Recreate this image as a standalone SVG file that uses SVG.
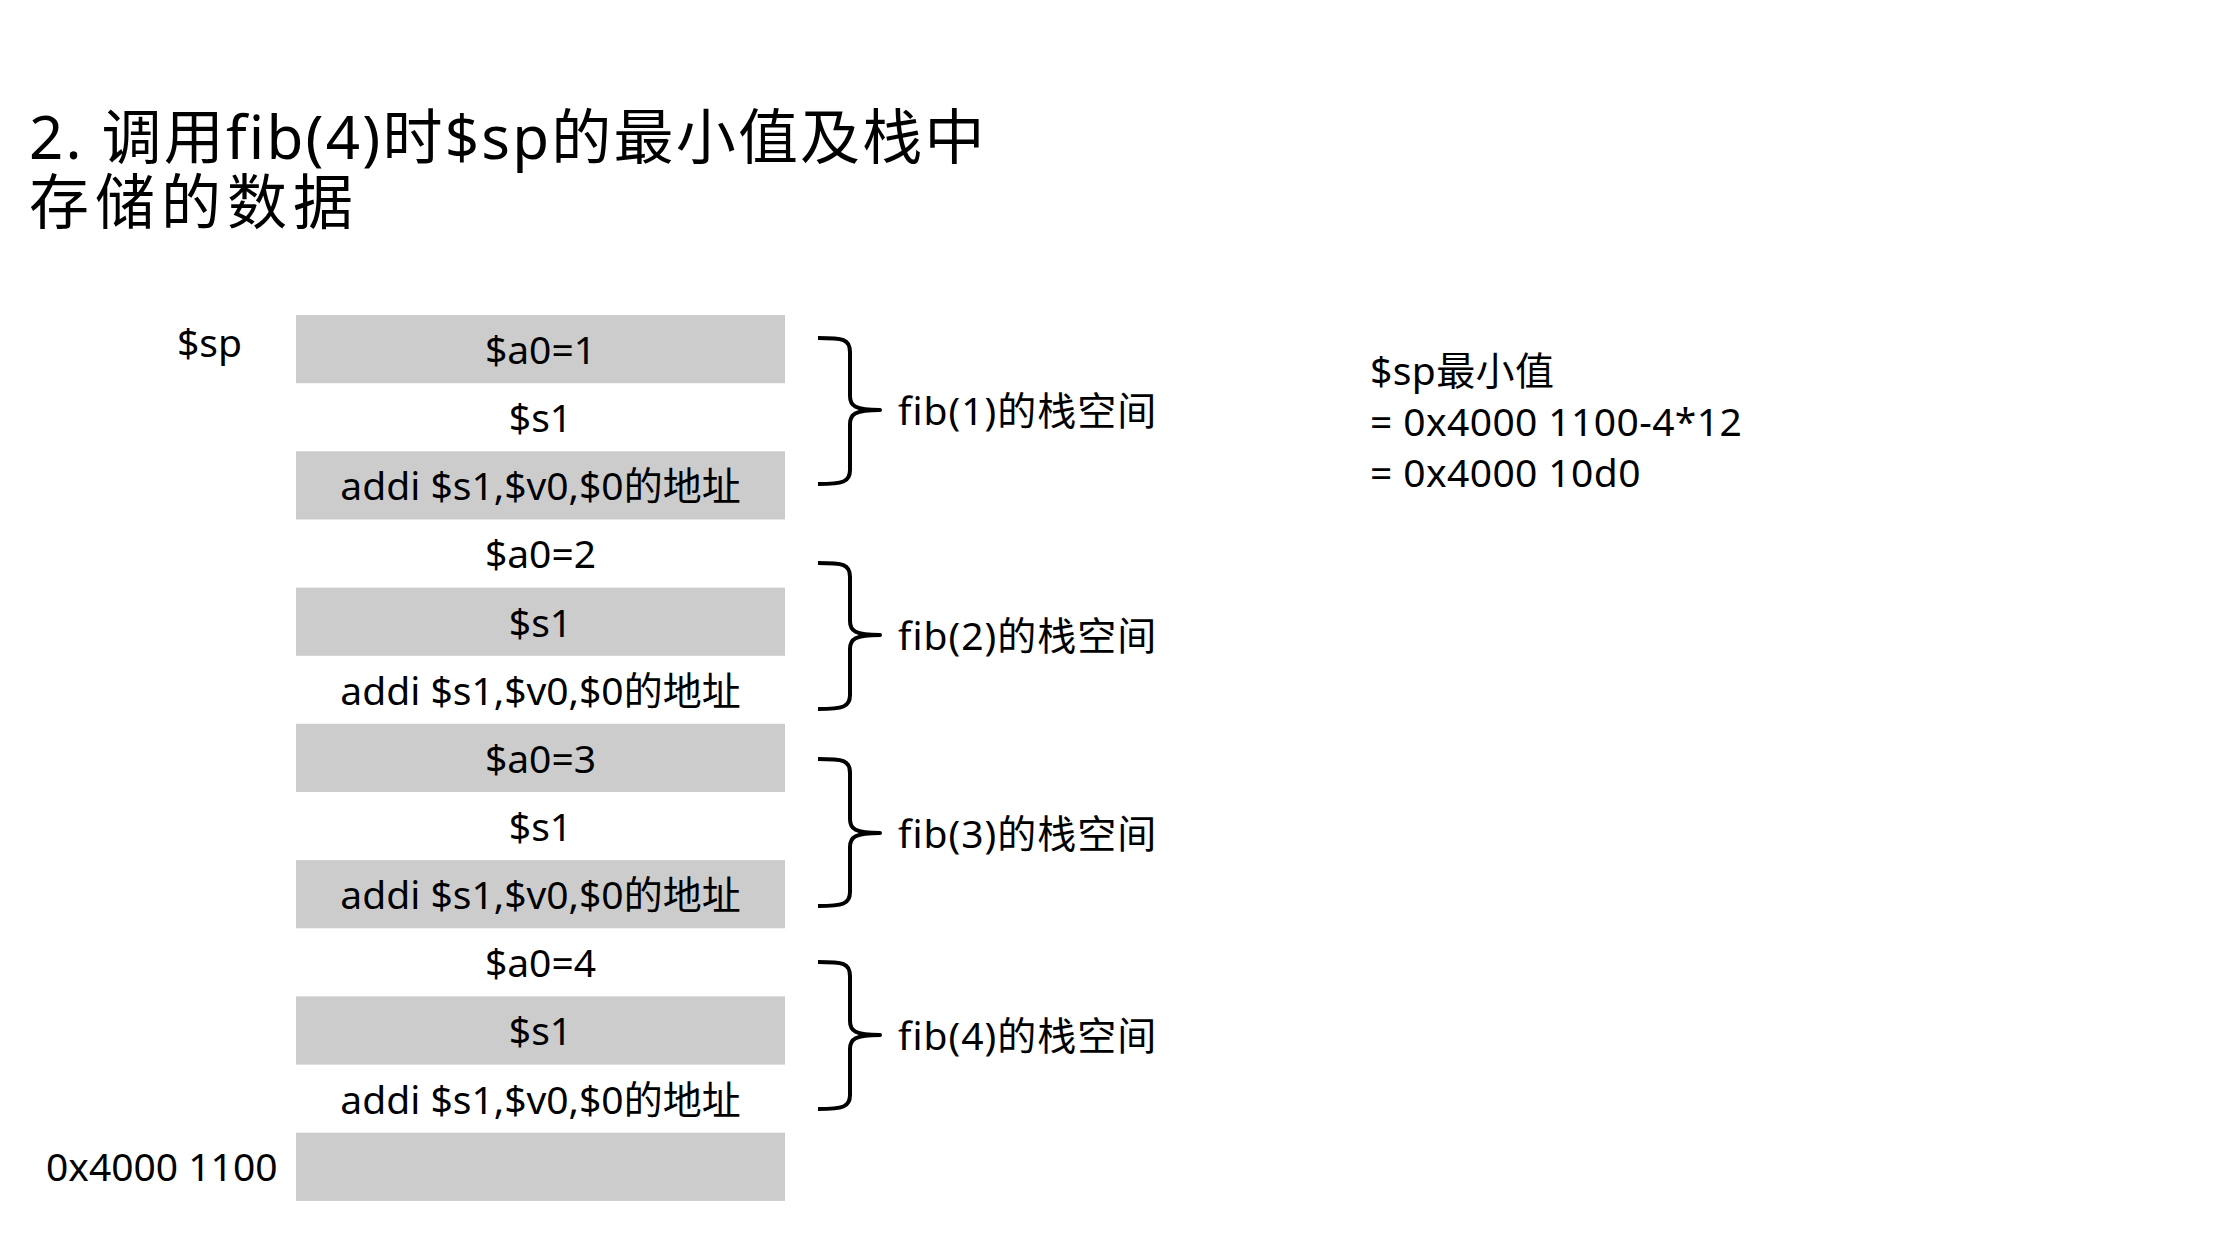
<svg xmlns="http://www.w3.org/2000/svg" width="2239" height="1244" viewBox="0 0 2239 1244">
<style>
  text { font-family: "Noto Sans", "Noto Sans CJK SC", sans-serif; fill: #000; }
  .cell { font-size: 39px; text-anchor: middle; }
  .lbl { font-size: 39px; }
  .fib { font-size: 39px; letter-spacing: 1px; }
  .res { font-size: 39px; letter-spacing: 0.4px; }
  .title { font-size: 60px; letter-spacing: 2.2px; }
  .title .l2 { letter-spacing: 6px; }
  .g { fill: #cccccc; }
  .brace { fill: none; stroke: #000; stroke-width: 4; stroke-linejoin: round; stroke-linecap: butt; }
</style>
<rect width="2239" height="1244" fill="#ffffff"/>

<g id="title">
  <text class="title"><tspan x="29" y="159">2. 调用fib(4)时$sp的最小值及栈中</tspan><tspan class="l2" x="29" y="224">存储的数据</tspan></text>
</g>

<g id="sp-label"><text class="lbl" x="177" y="357">$sp</text></g>
<g id="base-label"><text class="lbl" x="46" y="1181">0x4000 1100</text></g>

<g id="stack">
  <g id="cell0"><rect class="g" x="296" y="315" width="489" height="68.2"/><text class="cell" x="540.5" y="364">$a0=1</text></g>
  <g id="cell1"><text class="cell" x="540.5" y="432">$s1</text></g>
  <g id="cell2"><rect class="g" x="296" y="451.3" width="489" height="68.2"/><text class="cell" x="540.5" y="500">addi $s1,$v0,$0的地址</text></g>
  <g id="cell3"><text class="cell" x="540.5" y="568">$a0=2</text></g>
  <g id="cell4"><rect class="g" x="296" y="587.6" width="489" height="68.2"/><text class="cell" x="540.5" y="636.5">$s1</text></g>
  <g id="cell5"><text class="cell" x="540.5" y="704.5">addi $s1,$v0,$0的地址</text></g>
  <g id="cell6"><rect class="g" x="296" y="723.8" width="489" height="68.2"/><text class="cell" x="540.5" y="773">$a0=3</text></g>
  <g id="cell7"><text class="cell" x="540.5" y="841">$s1</text></g>
  <g id="cell8"><rect class="g" x="296" y="860.1" width="489" height="68.2"/><text class="cell" x="540.5" y="909">addi $s1,$v0,$0的地址</text></g>
  <g id="cell9"><text class="cell" x="540.5" y="977">$a0=4</text></g>
  <g id="cell10"><rect class="g" x="296" y="996.4" width="489" height="68.2"/><text class="cell" x="540.5" y="1045">$s1</text></g>
  <g id="cell11"><text class="cell" x="540.5" y="1113.5">addi $s1,$v0,$0的地址</text></g>
  <g id="cell12"><rect class="g" x="296" y="1132.7" width="489" height="68.2"/></g>
</g>

<g id="connectors">
  <path class="brace" d="M818,338 C843,338 850,339 850,352 L850,396 C850,406 855,410 880,410 C855,410 850,414 850,424 L850,470 C850,482 843,484 818,484"/>
  <path class="brace" d="M818,563 C843,563 850,564 850,577 L850,621 C850,631 855,635 880,635 C855,635 850,639 850,649 L850,695 C850,707 843,709 818,709"/>
  <path class="brace" d="M818,759 C843,759 850,760 850,773 L850,819 C850,829 855,833 880,833 C855,833 850,837 850,847 L850,892 C850,904 843,906 818,906"/>
  <path class="brace" d="M818,962 C843,962 850,963 850,976 L850,1021 C850,1031 855,1035 880,1035 C855,1035 850,1039 850,1049 L850,1095 C850,1107 843,1109 818,1109"/>
</g>

<g id="fib1-label"><text class="fib" x="898" y="425">fib(1)的栈空间</text></g>
<g id="fib2-label"><text class="fib" x="898" y="650">fib(2)的栈空间</text></g>
<g id="fib3-label"><text class="fib" x="898" y="848">fib(3)的栈空间</text></g>
<g id="fib4-label"><text class="fib" x="898" y="1050">fib(4)的栈空间</text></g>

<g id="result">
  <text class="res" x="1370" y="385">$sp最小值</text>
  <text class="res" x="1370" y="436">= 0x4000 1100-4*12</text>
  <text class="res" x="1370" y="487">= 0x4000 10d0</text>
</g>
</svg>
